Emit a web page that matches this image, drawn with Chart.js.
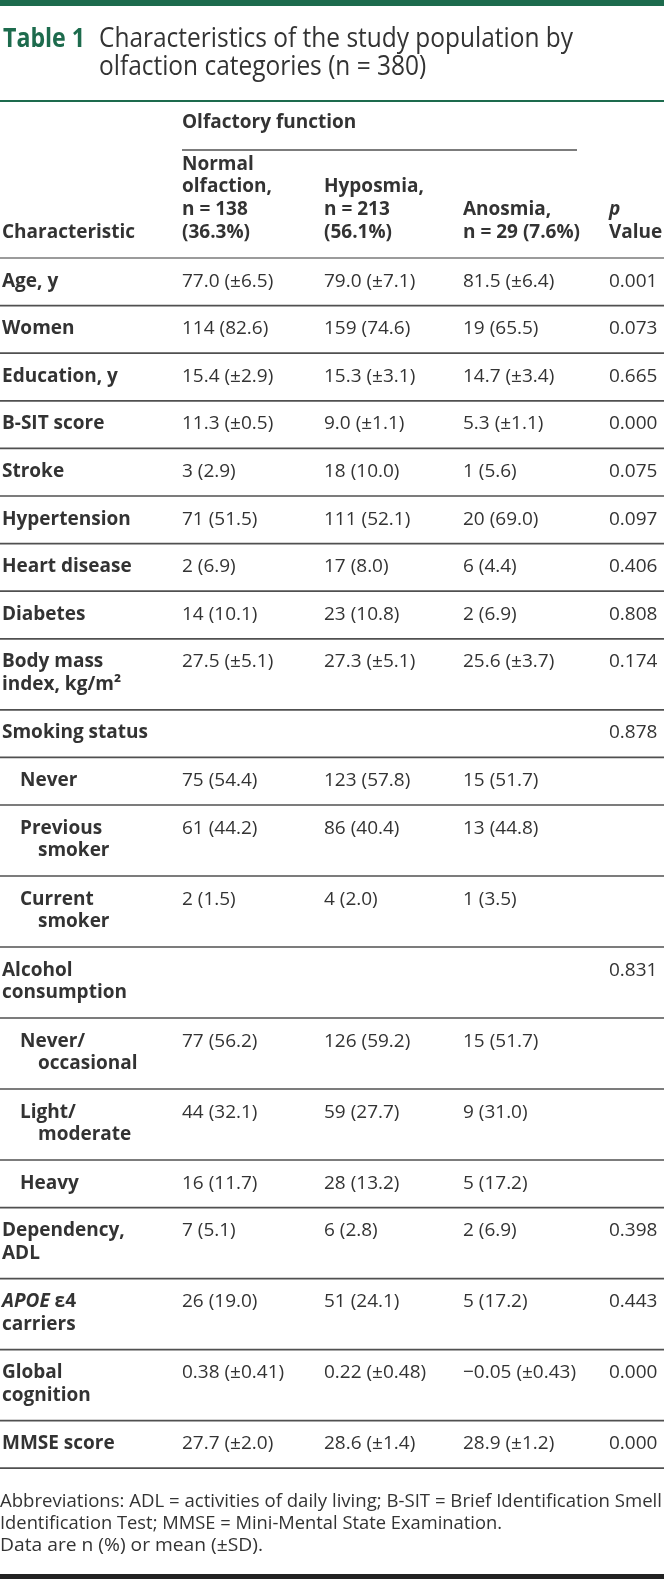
<!DOCTYPE html>
<html>
<head>
<meta charset="utf-8">
<script src="https://cdn.jsdelivr.net/npm/chart.js@4.4.1/dist/chart.umd.min.js"></script>
<style>
  html, body { margin: 0; padding: 0; background: #fff; }
  canvas { display: block; }
</style>
</head>
<body>
<canvas id="table1" width="664" height="1579"></canvas>
<script>
// ---- table content ----
const tableLabel = 'Table 1';
const titleLines = ['Characteristics of the study population by', 'olfaction categories (n = 380)'];
const spanningHeader = 'Olfactory function';
const columnHeaders = [
  'Characteristic',
  'Normal\nolfaction,\nn = 138\n(36.3%)',
  'Hyposmia,\nn = 213\n(56.1%)',
  'Anosmia,\nn = 29 (7.6%)',
  '*p*\nValue'
];

const characteristics = [
  'Age, y', 'Women', 'Education, y', 'B-SIT score', 'Stroke', 'Hypertension',
  'Heart disease', 'Diabetes', 'Body mass\nindex, kg/m²', 'Smoking status',
  'Never', 'Previous\nsmoker', 'Current\nsmoker', 'Alcohol\nconsumption',
  'Never/\noccasional', 'Light/\nmoderate', 'Heavy', 'Dependency,\nADL',
  '*APOE* ε4\ncarriers', 'Global\ncognition', 'MMSE score'
];
// 1 = sub-category of the group row above it
const subLevel = [0, 0, 0, 0, 0, 0, 0, 0, 0, 0, 1, 1, 1, 0, 1, 1, 1, 0, 0, 0, 0];

const normalOlfaction = [
  '77.0 (±6.5)', '114 (82.6)', '15.4 (±2.9)', '11.3 (±0.5)', '3 (2.9)', '71 (51.5)',
  '2 (6.9)', '14 (10.1)', '27.5 (±5.1)', '', '75 (54.4)', '61 (44.2)', '2 (1.5)', '',
  '77 (56.2)', '44 (32.1)', '16 (11.7)', '7 (5.1)', '26 (19.0)', '0.38 (±0.41)', '27.7 (±2.0)'
];
const hyposmia = [
  '79.0 (±7.1)', '159 (74.6)', '15.3 (±3.1)', '9.0 (±1.1)', '18 (10.0)', '111 (52.1)',
  '17 (8.0)', '23 (10.8)', '27.3 (±5.1)', '', '123 (57.8)', '86 (40.4)', '4 (2.0)', '',
  '126 (59.2)', '59 (27.7)', '28 (13.2)', '6 (2.8)', '51 (24.1)', '0.22 (±0.48)', '28.6 (±1.4)'
];
const anosmia = [
  '81.5 (±6.4)', '19 (65.5)', '14.7 (±3.4)', '5.3 (±1.1)', '1 (5.6)', '20 (69.0)',
  '6 (4.4)', '2 (6.9)', '25.6 (±3.7)', '', '15 (51.7)', '13 (44.8)', '1 (3.5)', '',
  '15 (51.7)', '9 (31.0)', '5 (17.2)', '2 (6.9)', '5 (17.2)', '\u22120.05 (±0.43)', '28.9 (±1.2)'
];
const pValues = [
  '0.001', '0.073', '0.665', '0.000', '0.075', '0.097', '0.406', '0.808', '0.174', '0.878',
  '', '', '', '0.831', '', '', '', '0.398', '0.443', '0.000', '0.000'
];

const footnotes = [
  'Abbreviations: ADL = activities of daily living; B-SIT = Brief Identification Smell',
  'Identification Test; MMSE = Mini-Mental State Examination.',
  'Data are n (%) or mean (±SD).'
];

// ---- layout ----
const W = 664, H = 1579;
const GREEN = '#1d6b4d';
const TEXT = '#333333';
const RULE = '#505050';
const FONT = '"Open Sans", "Noto Sans", sans-serif';
const BODY_SIZE = 19;
const colX = [2, 182, 324, 463, 609];
const LINE_H = 23.4;
const ROW_PAD = 24.2;
const footWidths = [662, 502, 263];

function setFont(ctx, weight, size, italic) {
  ctx.font = (italic ? 'italic ' : '') + weight + ' ' + size + 'px ' + FONT;
}

// draws text where *...* marks italic parts
function drawRich(ctx, text, x, y, weight, size) {
  const parts = text.split('*');
  let cx = x;
  parts.forEach((p, i) => {
    if (!p) return;
    setFont(ctx, weight, size, i % 2 === 1);
    ctx.fillText(p, cx, y);
    cx += ctx.measureText(p).width;
  });
}

// text squeezed/stretched horizontally to a given width
function drawFitted(ctx, text, x, y, width) {
  const w = ctx.measureText(text).width;
  ctx.save();
  ctx.translate(x, y);
  ctx.scale(width / w, 1);
  ctx.fillText(text, 0, 0);
  ctx.restore();
}

function hline(ctx, x0, x1, y, width, color) {
  ctx.save();
  ctx.strokeStyle = color;
  ctx.lineWidth = width;
  ctx.beginPath();
  ctx.moveTo(x0, y);
  ctx.lineTo(x1, y);
  ctx.stroke();
  ctx.restore();
}

const tablePlugin = {
  id: 'tableDraw',
  beforeDraw(chart) {
    const ctx = chart.ctx;
    ctx.save();
    ctx.fillStyle = '#fff';
    ctx.fillRect(0, 0, chart.width, chart.height);
    ctx.restore();
  },
  afterDraw(chart) {
    const { ctx, scales: { x, y } } = chart;
    const px = v => x.getPixelForValue(v);
    const py = v => y.getPixelForValue(v);
    ctx.save();
    ctx.textBaseline = 'alphabetic';
    ctx.textAlign = 'left';

    // top bar and title
    ctx.fillStyle = GREEN;
    ctx.fillRect(px(0), py(0), px(W) - px(0), py(6) - py(0));
    setFont(ctx, 700, 27);
    drawFitted(ctx, tableLabel, px(3), py(47), 82);
    ctx.fillStyle = TEXT;
    setFont(ctx, 400, 27);
    const squeeze = 474 / ctx.measureText(titleLines[0]).width;
    titleLines.forEach((line, i) => {
      drawFitted(ctx, line, px(99), py(47 + i * 27.5), ctx.measureText(line).width * squeeze);
    });
    hline(ctx, px(0), px(W), py(101), 2, GREEN);

    // header
    ctx.fillStyle = TEXT;
    setFont(ctx, 700, BODY_SIZE);
    ctx.fillText(spanningHeader, px(colX[1]), py(128));
    hline(ctx, px(colX[1]), px(577), py(150), 1.6, RULE);
    const headerBase = 238;
    columnHeaders.forEach((h, c) => {
      const lines = h.split('\n');
      lines.forEach((ln, i) => {
        drawRich(ctx, ln, px(colX[c]), py(headerBase - (lines.length - 1 - i) * 22.8), 700, BODY_SIZE);
      });
    });
    let top = 258;
    hline(ctx, px(0), px(W), py(top), 1.6, '#7a7a7a');

    // body rows
    const cols = [normalOlfaction, hyposmia, anosmia, pValues];
    characteristics.forEach((label, r) => {
      const lines = label.split('\n');
      const rowH = lines.length * LINE_H + ROW_PAD;
      const base = top + 28.5;
      lines.forEach((ln, i) => {
        let indent = colX[0];
        if (subLevel[r]) indent += i === 0 ? 18 : 36;
        drawRich(ctx, ln, px(indent), py(base + i * 22.6), 700, BODY_SIZE);
      });
      setFont(ctx, 400, BODY_SIZE);
      cols.forEach((arr, c) => {
        if (arr[r]) ctx.fillText(arr[r], px(colX[c + 1]), py(base));
      });
      top += rowH;
      hline(ctx, px(0), px(W), py(top), 1.7, RULE);
    });

    // footnotes
    setFont(ctx, 400, 18);
    footnotes.forEach((ln, i) => {
      drawFitted(ctx, ln, px(0), py(1507 + i * 22), footWidths[i]);
    });
    ctx.fillStyle = '#222';
    ctx.fillRect(px(0), py(1574), px(W) - px(0), py(H) - py(1574));
    ctx.restore();
  }
};

new Chart(document.getElementById('table1'), {
  type: 'scatter',
  data: { datasets: [] },
  options: {
    responsive: false,
    animation: false,
    events: [],
    layout: { padding: 0 },
    plugins: { legend: { display: false }, tooltip: { enabled: false } },
    scales: {
      x: { type: 'linear', min: 0, max: W, display: false },
      y: { type: 'linear', min: 0, max: H, reverse: true, display: false }
    }
  },
  plugins: [tablePlugin]
});
</script>
</body>
</html>
